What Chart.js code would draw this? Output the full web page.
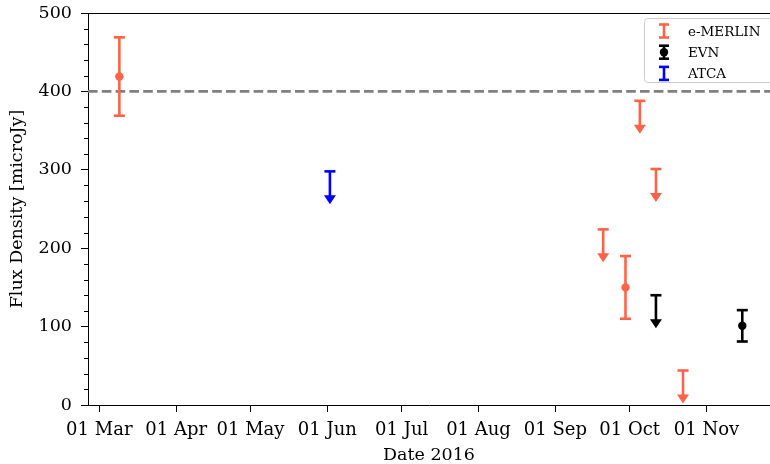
<!DOCTYPE html>
<html><head><meta charset="utf-8">
<script src="https://cdn.jsdelivr.net/npm/chart.js@4"></script>
<style>html,body{margin:0;padding:0;background:#fff}#wrap{width:770px;height:464px}</style>
</head><body><div id="wrap"><canvas id="c" width="770" height="464"></canvas></div>
<script>
// ---- data ----
const monthTicks = ['2016-03-01','2016-04-01','2016-05-01','2016-06-01','2016-07-01','2016-08-01','2016-09-01','2016-10-01','2016-11-01'];
const monthLabels = ['01 Mar','01 Apr','01 May','01 Jun','01 Jul','01 Aug','01 Sep','01 Oct','01 Nov'];
const yTickValues = [0,100,200,300,400,500];
const referenceLevel = 400;

const emerlinDates = ['2016-03-09T02:00','2016-09-29T07:00'];
const emerlinFlux = [419, 150];
const emerlinErr = [50, 40];
const emerlinLimitDates = ['2016-09-20T07:00','2016-10-05T02:00','2016-10-11T14:00','2016-10-22T12:00'];
const emerlinLimits = [224, 388, 301, 44];

const evnDates = ['2016-11-15T10:00'];
const evnFlux = [101];
const evnErr = [20];
const evnLimitDates = ['2016-10-11T14:00'];
const evnLimits = [140];

const atcaLimitDates = ['2016-06-02T01:00'];
const atcaLimits = [298];

const limitArrow = 42; // length of upper-limit arrows (flux units)

// ---- helpers ----
function toDay(s){
  const [d,t] = s.split('T');
  const [Y,M,D] = d.split('-').map(Number);
  let h = 0;
  if (t){ const [hh,mm] = t.split(':').map(Number); h = hh + (mm||0)/60; }
  return Date.UTC(Y,M-1,D)/864e5 + h/24;
}
const RED = '#ff6347', BLACK = '#000000', BLUE = '#0000ff';
const FONT = "'DejaVu Serif', serif";
const xMin = toDay('2016-03-01') - 4.56;
const xMax = toDay('2016-03-01') + 270.6;

function det(dates, flux, err){ return dates.map((d,i)=>({x:toDay(d), y:flux[i], err:err[i]})); }
function lim(dates, vals){ return dates.map((d,i)=>({x:toDay(d), y:vals[i]})); }

const datasets = [
  {label:'e-MERLIN', data:det(emerlinDates, emerlinFlux, emerlinErr), color:RED, kind:'det'},
  {label:'e-MERLIN', data:lim(emerlinLimitDates, emerlinLimits), color:RED, kind:'lim'},
  {label:'EVN', data:det(evnDates, evnFlux, evnErr), color:BLACK, kind:'det'},
  {label:'EVN', data:lim(evnLimitDates, evnLimits), color:BLACK, kind:'lim'},
  {label:'ATCA', data:lim(atcaLimitDates, atcaLimits), color:BLUE, kind:'lim'}
].map(ds => Object.assign(ds, {
  backgroundColor: ds.color, borderColor: ds.color,
  pointRadius: ds.kind === 'det' ? 4.2 : 0, pointBorderWidth: 0, pointHoverRadius: 0
}));

const legendItems = [
  {label:'e-MERLIN', color:RED, dot:false},
  {label:'EVN', color:BLACK, dot:true},
  {label:'ATCA', color:BLUE, dot:false}
];

// ---- plugins ----
const refLine = {
  id:'refLine',
  beforeDatasetsDraw(chart){
    const {ctx, chartArea:a, scales:{y}} = chart;
    const py = y.getPixelForValue(referenceLevel);
    ctx.save();
    ctx.strokeStyle = '#808080'; ctx.lineWidth = 2.6; ctx.setLineDash([9.6,4.2]);
    ctx.beginPath(); ctx.moveTo(a.left, py); ctx.lineTo(a.right, py); ctx.stroke();
    ctx.restore();
  }
};

function drawCap(ctx, x, y, w){ ctx.beginPath(); ctx.moveTo(x-w/2, y); ctx.lineTo(x+w/2, y); ctx.stroke(); }

const errorBars = {
  id:'errorBars',
  beforeDatasetsDraw(chart){
    const {ctx, scales:{x, y}} = chart;
    ctx.save();
    ctx.lineWidth = 2.6; ctx.lineCap = 'butt';
    chart.data.datasets.forEach(ds => {
      ctx.strokeStyle = ds.color; ctx.fillStyle = ds.color;
      ds.data.forEach(p => {
        const px = x.getPixelForValue(p.x);
        if (ds.kind === 'det'){
          const top = y.getPixelForValue(p.y + p.err), bot = y.getPixelForValue(p.y - p.err);
          ctx.beginPath(); ctx.moveTo(px, top); ctx.lineTo(px, bot); ctx.stroke();
          drawCap(ctx, px, top, 11); drawCap(ctx, px, bot, 11);
        } else {
          const top = y.getPixelForValue(p.y), tip = y.getPixelForValue(p.y - limitArrow);
          ctx.beginPath(); ctx.moveTo(px, top); ctx.lineTo(px, tip - 6); ctx.stroke();
          drawCap(ctx, px, top, 11);
          ctx.beginPath(); ctx.moveTo(px - 6, tip - 9); ctx.lineTo(px + 6, tip - 9); ctx.lineTo(px, tip); ctx.closePath(); ctx.fill();
        }
      });
    });
    ctx.restore();
  }
};

const frame = {
  id:'frame',
  afterDraw(chart){
    const {ctx, chartArea:a, scales:{y}} = chart;
    ctx.save();
    ctx.strokeStyle = '#000'; ctx.lineWidth = 1;
    ctx.beginPath(); ctx.moveTo(a.left, Math.round(a.top)+0.5); ctx.lineTo(a.right, Math.round(a.top)+0.5); ctx.stroke();
    // minor ticks on y
    for (let v = 0; v <= 500; v += 20){
      if (v % 100 === 0) continue;
      const py = Math.round(y.getPixelForValue(v)) + 0.5;
      ctx.beginPath(); ctx.moveTo(a.left - 4, py); ctx.lineTo(a.left, py); ctx.stroke();
    }
    ctx.restore();
    // legend
    const bx = 644.5, by = 18.5, bw = 140, bh = 64;
    ctx.save();
    ctx.fillStyle = 'rgba(255,255,255,0.85)'; ctx.strokeStyle = '#cccccc'; ctx.lineWidth = 1;
    ctx.beginPath();
    if (ctx.roundRect) ctx.roundRect(bx, by, bw, bh, 3); else ctx.rect(bx, by, bw, bh);
    ctx.fill(); ctx.stroke();
    ctx.font = '13.5px ' + FONT; ctx.textBaseline = 'middle'; ctx.textAlign = 'left';
    legendItems.forEach((it, i) => {
      const cy = by + 12.5 + i * 21.2, mx = 664;
      ctx.strokeStyle = it.color; ctx.fillStyle = it.color; ctx.lineWidth = 2.6;
      ctx.beginPath(); ctx.moveTo(mx, cy - 6.5); ctx.lineTo(mx, cy + 6.5); ctx.stroke();
      drawCap(ctx, mx, cy - 6.5, 10); drawCap(ctx, mx, cy + 6.5, 10);
      if (it.dot){ ctx.beginPath(); ctx.arc(mx, cy, 4.2, 0, Math.PI*2); ctx.fill(); }
      ctx.fillStyle = '#000';
      ctx.fillText(it.label, 688, cy + 1);
    });
    ctx.restore();
  }
};

// ---- chart ----
new Chart(document.getElementById('c'), {
  type:'scatter',
  data:{datasets},
  options:{
    responsive:false, animation:false, devicePixelRatio:1,
    layout:{autoPadding:false, padding:{top:13, right:0, left:0, bottom:0}},
    plugins:{legend:{display:false}, tooltip:{enabled:false}},
    scales:{
      x:{
        type:'linear', min:xMin, max:xMax,
        afterBuildTicks: s => { s.ticks = monthTicks.map(m => ({value: toDay(m)})); },
        afterFit: s => { s.height = 464 - 405; s.paddingLeft = 0; s.paddingRight = 0; },
        ticks:{autoSkip:false, maxRotation:0, color:'#000', padding:8, font:{family:FONT, size:18},
          callback: v => { const i = monthTicks.findIndex(m => Math.abs(toDay(m) - v) < 1e-6); return i >= 0 ? monthLabels[i] : ''; }},
        grid:{drawOnChartArea:false, tickLength:7, tickColor:'#000', color:'#000'},
        border:{color:'#000', width:1},
        title:{display:true, text:'Date 2016', color:'#000', font:{family:FONT, size:17.5, lineHeight:1}, padding:{top:0, bottom:0}}
      },
      y:{
        min:0, max:500,
        afterBuildTicks: s => { s.ticks = yTickValues.map(v => ({value:v})); },
        afterFit: s => { s.width = 88; s.paddingTop = 0; s.paddingBottom = 0; },
        ticks:{color:'#000', padding:9, font:{family:FONT, size:17.5}},
        grid:{drawOnChartArea:false, tickLength:7, tickColor:'#000', color:'#000'},
        border:{color:'#000', width:1},
        title:{display:true, text:'Flux Density [microJy]', color:'#000', font:{family:FONT, size:17.5, lineHeight:1.2}, padding:{top:7, bottom:0}}
      }
    }
  },
  plugins:[refLine, errorBars, frame]
});
</script></body></html>
